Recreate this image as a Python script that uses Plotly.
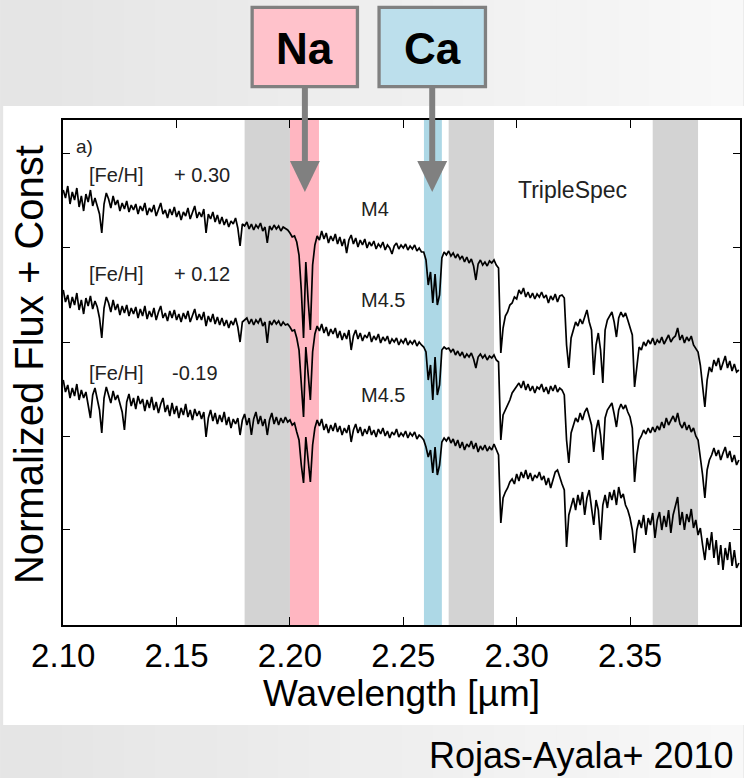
import numpy as np
import plotly.graph_objects as go

# ---------------- data ----------------
WAVE_START = 2.100   # micron, first sample
WAVE_STEP = 0.001

# normalized flux + constant, [Fe/H] = +0.30, M4
flux_m4_p030 = [
    5.10,5.02,5.14,4.96,5.08,5.00,5.12,4.93,5.04,4.89,
    5.06,4.98,5.10,4.94,5.02,4.95,4.86,4.67,4.96,5.07,
    5.01,4.92,5.04,4.95,5.00,4.89,4.97,4.91,4.99,4.88,
    4.95,4.90,4.96,4.86,4.94,4.89,4.97,4.85,4.92,4.88,
    4.95,4.84,4.91,4.97,4.86,4.90,4.82,4.91,4.85,4.93,
    4.83,4.89,4.80,4.88,4.84,4.92,4.81,4.87,4.94,4.82,
    4.88,4.83,4.91,4.67,4.86,4.81,4.88,4.78,4.85,4.76,
    4.83,4.75,4.81,4.73,4.79,4.76,4.82,4.72,4.54,4.76,
    4.74,4.78,4.71,4.76,4.70,4.75,4.72,4.77,4.69,4.73,
    4.57,4.74,4.70,4.75,4.71,4.74,4.69,4.73,4.71,4.70,
    4.67,4.63,4.64,4.58,4.45,4.10,3.62,4.38,4.00,3.70,
    4.35,4.55,4.64,4.60,4.69,4.61,4.67,4.57,4.64,4.59,
    4.66,4.56,4.63,4.54,4.61,4.47,4.60,4.65,4.56,4.62,
    4.53,4.60,4.55,4.61,4.52,4.58,4.54,4.59,4.51,4.56,
    4.53,4.58,4.50,4.55,4.52,4.46,4.54,4.57,4.51,4.55,
    4.52,4.56,4.50,4.54,4.51,4.55,4.49,4.52,4.48,4.48,
    4.40,4.15,4.28,3.97,4.26,3.95,4.05,4.42,4.48,4.45,
    4.49,4.44,4.47,4.42,4.46,4.41,4.44,4.38,4.43,4.37,
    4.41,4.34,4.20,4.36,4.40,4.35,4.38,4.34,4.39,4.37,
    4.40,4.35,4.32,3.47,3.72,3.84,3.88,3.95,3.97,4.03,
    4.01,4.10,4.06,4.12,4.03,4.08,4.02,4.07,4.01,4.06,
    4.03,4.08,4.02,4.05,3.97,4.04,4.00,4.06,3.98,4.04,
    4.05,4.02,3.55,3.32,3.62,3.70,3.78,3.74,3.81,3.76,
    3.82,3.90,3.78,3.70,3.25,3.55,3.67,3.50,3.17,3.70,
    3.80,3.84,3.88,3.78,3.63,3.82,3.88,3.83,3.87,3.80,
    3.72,3.65,3.13,3.35,3.53,3.50,3.58,3.54,3.60,3.56,
    3.62,3.55,3.60,3.57,3.63,3.56,3.61,3.65,3.58,3.62,
    3.64,3.72,3.60,3.65,3.57,3.63,3.59,3.64,3.55,3.52,
    3.48,3.35,3.15,2.93,3.20,3.33,3.28,3.40,3.34,3.42,
    3.30,3.38,3.44,3.32,3.39,3.29,3.36,3.28,3.30,
]

# [Fe/H] = +0.12, M4.5
flux_m45_p012 = [
    4.10,3.98,4.05,3.92,4.03,3.95,4.07,3.90,4.00,3.86,
    4.02,3.94,4.04,3.91,3.99,3.93,3.82,3.62,3.92,4.03,
    3.97,3.88,4.00,3.90,3.96,3.85,3.94,3.87,3.95,3.84,
    3.92,3.86,3.93,3.82,3.91,3.84,3.94,3.81,3.89,3.83,
    3.92,3.80,3.88,3.94,3.82,3.87,3.79,3.89,3.82,3.90,
    3.80,3.86,3.78,3.87,3.81,3.89,3.78,3.85,3.91,3.80,
    3.86,3.80,3.88,3.74,3.84,3.78,3.86,3.76,3.83,3.75,
    3.82,3.74,3.80,3.72,3.79,3.75,3.82,3.73,3.58,3.78,
    3.80,3.82,3.76,3.81,3.75,3.80,3.77,3.82,3.74,3.78,
    3.57,3.79,3.75,3.80,3.76,3.79,3.74,3.78,3.75,3.76,
    3.73,3.69,3.70,3.62,3.50,3.15,2.83,3.53,3.28,3.00,
    3.48,3.66,3.74,3.69,3.76,3.67,3.73,3.64,3.71,3.66,
    3.72,3.62,3.69,3.60,3.67,3.61,3.70,3.50,3.64,3.70,
    3.61,3.67,3.59,3.65,3.62,3.68,3.58,3.64,3.60,3.66,
    3.57,3.63,3.59,3.64,3.56,3.61,3.58,3.62,3.55,3.60,
    3.57,3.62,3.55,3.59,3.56,3.60,3.54,3.58,3.55,3.53,
    3.48,3.20,3.35,3.00,3.43,3.05,3.15,3.50,3.53,3.51,
    3.52,3.48,3.51,3.45,3.49,3.44,3.48,3.42,3.46,3.43,
    3.47,3.41,3.32,3.43,3.46,3.42,3.45,3.40,3.44,3.42,
    3.45,3.40,3.38,2.60,2.85,2.90,2.96,3.00,3.07,3.10,
    3.14,3.17,3.12,3.19,3.10,3.16,3.09,3.14,3.07,3.13,
    3.11,3.16,3.08,3.13,3.06,3.14,3.09,3.15,3.08,3.12,
    3.10,3.05,2.60,2.37,2.67,2.75,2.82,2.78,2.87,2.80,
    2.88,2.92,2.82,2.75,2.48,2.70,2.80,2.65,2.40,2.82,
    2.90,2.94,2.97,2.86,2.73,2.90,2.96,2.91,2.95,2.88,
    2.83,2.72,2.18,2.45,2.60,2.64,2.70,2.66,2.72,2.67,
    2.73,2.68,2.74,2.70,2.78,2.72,2.82,2.75,2.79,2.84,
    2.78,2.87,2.76,2.72,2.78,2.70,2.75,2.68,2.72,2.64,
    2.60,2.45,2.25,2.02,2.30,2.40,2.45,2.52,2.44,2.50,
    2.40,2.47,2.53,2.42,2.49,2.38,2.45,2.35,2.40,
]

# [Fe/H] = -0.19, M4.5
flux_m45_m019 = [
    3.20,3.08,3.15,3.02,3.12,3.04,3.16,3.00,3.10,3.02,
    3.08,2.95,2.82,3.05,3.12,3.01,2.90,2.67,3.02,3.13,
    3.06,2.97,3.09,3.00,3.05,2.95,2.88,2.70,2.98,3.06,
    2.94,3.02,2.91,3.04,2.96,3.01,2.89,3.00,2.92,3.03,
    2.90,2.98,2.87,2.96,3.02,2.88,2.95,2.84,2.97,2.86,
    2.94,2.82,2.92,2.85,2.96,2.83,2.90,2.80,2.91,2.84,
    2.89,2.81,2.88,2.63,2.82,2.90,2.79,2.87,2.76,2.85,
    2.78,2.88,2.75,2.83,2.72,2.81,2.76,2.82,2.65,2.80,
    2.86,2.75,2.82,2.65,2.81,2.88,2.76,2.84,2.74,2.81,
    2.65,2.80,2.87,2.76,2.83,2.75,2.82,2.77,2.83,2.78,
    2.80,2.75,2.77,2.68,2.60,2.35,2.17,2.63,2.40,2.18,
    2.55,2.72,2.80,2.74,2.81,2.70,2.76,2.67,2.75,2.69,
    2.77,2.68,2.74,2.65,2.72,2.67,2.75,2.58,2.70,2.76,
    2.67,2.73,2.64,2.71,2.66,2.74,2.65,2.70,2.63,2.71,
    2.66,2.72,2.64,2.69,2.62,2.68,2.65,2.71,2.63,2.67,
    2.64,2.69,2.62,2.67,2.64,2.68,2.61,2.65,2.63,2.60,
    2.53,2.43,2.50,2.27,2.53,2.25,2.35,2.58,2.62,2.59,
    2.63,2.57,2.61,2.54,2.60,2.52,2.58,2.50,2.56,2.53,
    2.59,2.51,2.57,2.48,2.54,2.50,2.55,2.49,2.53,2.50,
    2.56,2.51,2.45,1.77,2.02,2.08,2.12,2.18,2.21,2.16,
    2.26,2.19,2.28,2.22,2.30,2.21,2.27,2.19,2.25,2.22,
    2.28,2.20,2.24,2.15,2.22,2.12,2.20,2.28,2.30,2.22,
    2.16,2.10,1.53,1.85,1.95,2.02,1.90,2.05,1.95,2.08,
    1.85,2.02,2.10,1.92,1.75,2.00,1.90,1.60,1.95,2.05,
    1.92,2.08,2.00,2.10,1.95,2.13,2.02,2.06,1.95,1.90,
    1.82,1.70,1.47,1.70,1.80,1.72,1.85,1.65,1.82,1.75,
    1.87,1.62,1.80,1.88,1.70,1.84,1.73,1.90,1.67,1.85,
    1.95,2.03,1.75,1.88,1.70,1.86,1.78,1.91,1.72,1.80,
    1.65,1.72,1.55,1.40,1.62,1.50,1.68,1.42,1.60,1.35,
    1.55,1.30,1.52,1.40,1.58,1.34,1.50,1.32,1.37,
]

x_tick_values = [2.10, 2.15, 2.20, 2.25, 2.30, 2.35]
x_tick_labels = ["2.10", "2.15", "2.20", "2.25", "2.30", "2.35"]
y_tick_values = [1.71, 2.64, 3.58, 4.53, 5.47]

gray_bands = [(2.180, 2.200), (2.270, 2.290), (2.360, 2.380)]
na_band = (2.200, 2.2128)
ca_band = (2.2591, 2.2670)

# label texts: (x, y, name, value)
feh_labels = [(2.1105, 5.25, "[Fe/H]", "+ 0.30", 2.1478),
              (2.1105, 4.26, "[Fe/H]", "+ 0.12", 2.1478),
              (2.1105, 3.27, "[Fe/H]", "-0.19", 2.1470)]
sptype_labels = [(2.2305, 4.91, "M4"), (2.2305, 4.00, "M4.5"), (2.2305, 3.05, "M4.5")]

X_RANGE = [2.0999, 2.3985]
Y_RANGE = [0.75, 5.80]

# ---------------- figure ----------------
FONT = "Liberation Sans, Arial, Helvetica, sans-serif"
W, H = 744, 778
ML, MR, MT, MB = 63, 2, 120, 153
PW, PH = W - ML - MR, H - MT - MB


def px(xp):  # pixel x -> paper
    return (xp - ML) / PW


def py(yp):  # pixel y -> paper
    return (H - MB - yp) / PH


fig = go.Figure()

def wave_for(flux):
    return [round(WAVE_START + i * WAVE_STEP, 4) for i in range(len(flux))]

for flux in (flux_m4_p030, flux_m45_p012, flux_m45_m019):
    fig.add_trace(go.Scatter(x=wave_for(flux), y=flux, mode="lines",
                             line=dict(color="black", width=1.7),
                             showlegend=False, hoverinfo="skip"))

shapes = []
# slide background gradient
n = 24
for i in range(n):
    c = int(229 + (248 - 229) * i / (n - 1))
    shapes.append(dict(type="rect", xref="paper", yref="paper", layer="below",
                       x0=px(W * i / n), x1=px(W * (i + 1) / n + 1),
                       y0=py(H), y1=py(0), line=dict(width=0),
                       fillcolor=f"rgb({c},{c},{c})"))
# white figure panel
shapes.append(dict(type="rect", xref="paper", yref="paper", layer="below",
                   x0=px(3), x1=px(W + 2), y0=py(725), y1=py(106),
                   line=dict(width=0), fillcolor="white"))
# bands
for a, b in gray_bands:
    shapes.append(dict(type="rect", xref="x", yref="paper", layer="below",
                       x0=a, x1=b, y0=0, y1=1, line=dict(width=0), fillcolor="#d3d3d3"))
shapes.append(dict(type="rect", xref="x", yref="paper", layer="below",
                   x0=na_band[0], x1=na_band[1], y0=0, y1=1, line=dict(width=0),
                   fillcolor="#ffb6c1"))
shapes.append(dict(type="rect", xref="x", yref="paper", layer="below",
                   x0=ca_band[0], x1=ca_band[1], y0=0, y1=1, line=dict(width=0),
                   fillcolor="#add8e6"))

# label boxes with arrows
ARROW = "#808080"
boxes = [("Na", 252.7, 358.3, "#ffc2cb", 305.6), ("Ca", 380.0, 486.7, "#bcdfec", 433.3)]
annotations = []
for label, bx0, bx1, fill, ax in boxes:
    shapes.append(dict(type="rect", xref="paper", yref="paper", layer="above",
                       x0=px(bx0), x1=px(bx1), y0=py(86.7), y1=py(7.3),
                       line=dict(color=ARROW, width=3.3), fillcolor=fill))
    shapes.append(dict(type="line", xref="paper", yref="paper", layer="above",
                       x0=px(ax), x1=px(ax), y0=py(88), y1=py(163),
                       line=dict(color=ARROW, width=6)))
    shapes.append(dict(type="path", xref="paper", yref="paper", layer="above",
                       path=(f"M {px(ax - 15)} {py(161)} L {px(ax + 15)} {py(161)} "
                             f"L {px(ax)} {py(192)} Z"),
                       line=dict(width=0), fillcolor=ARROW))
    annotations.append(dict(xref="paper", yref="paper", x=px((bx0 + bx1) / 2), y=py(48),
                            text=f"<b>{label}</b>", showarrow=False,
                            font=dict(family=FONT, size=44, color="black"),
                            xanchor="center", yanchor="middle"))

# in-plot labels
LBL = dict(family=FONT, size=20, color="#222")
for x, y, t1, t2, x2 in feh_labels:
    annotations.append(dict(x=x, y=y, xref="x", yref="y", text=t1, showarrow=False,
                            xanchor="left", yanchor="middle", font=LBL))
    annotations.append(dict(x=x2, y=y, xref="x", yref="y", text=t2, showarrow=False,
                            xanchor="left", yanchor="middle", font=LBL))
for x, y, t in sptype_labels:
    annotations.append(dict(x=x, y=y, xref="x", yref="y", text=t, showarrow=False,
                            xanchor="left", yanchor="middle", font=LBL))
annotations.append(dict(x=2.1048, y=5.54, xref="x", yref="y", text="a)", showarrow=False,
                        xanchor="left", yanchor="middle",
                        font=dict(family=FONT, size=19, color="#222")))
annotations.append(dict(x=2.2999, y=5.10, xref="x", yref="y", text="TripleSpec",
                        showarrow=False, xanchor="left", yanchor="middle",
                        font=dict(family=FONT, size=23, color="#222")))

# axis titles and caption
annotations.append(dict(xref="paper", yref="paper", x=px(29), y=py(365),
                        text="Normalized Flux + Const", textangle=-90, showarrow=False,
                        xanchor="center", yanchor="middle",
                        font=dict(family=FONT, size=40, color="black")))
annotations.append(dict(xref="paper", yref="paper", x=px(402), y=py(693),
                        text="Wavelength [µm]", showarrow=False,
                        xanchor="center", yanchor="middle",
                        font=dict(family=FONT, size=37, color="black")))
annotations.append(dict(xref="paper", yref="paper", x=px(738), y=py(755),
                        text="Rojas-Ayala+ 2010", showarrow=False,
                        xanchor="right", yanchor="middle",
                        font=dict(family=FONT, size=36, color="black")))

fig.update_layout(
    width=W, height=H,
    margin=dict(l=ML, r=MR, t=MT, b=MB, pad=0),
    paper_bgcolor="#ececec", plot_bgcolor="white",
    shapes=shapes, annotations=annotations, showlegend=False,
    xaxis=dict(range=X_RANGE, tickvals=x_tick_values, ticktext=x_tick_labels,
               ticks="inside", ticklen=8, tickwidth=1.2, tickcolor="black",
               showline=True, linecolor="black", linewidth=2, mirror="ticks",
               showgrid=False, zeroline=False, ticklabelstandoff=0,
               tickfont=dict(family=FONT, size=33, color="black")),
    yaxis=dict(range=Y_RANGE, tickvals=y_tick_values, showticklabels=False,
               ticks="inside", ticklen=7, tickwidth=1.2, tickcolor="black",
               showline=True, linecolor="black", linewidth=2, mirror="ticks",
               showgrid=False, zeroline=False),
)

fig.write_html("out.html")
